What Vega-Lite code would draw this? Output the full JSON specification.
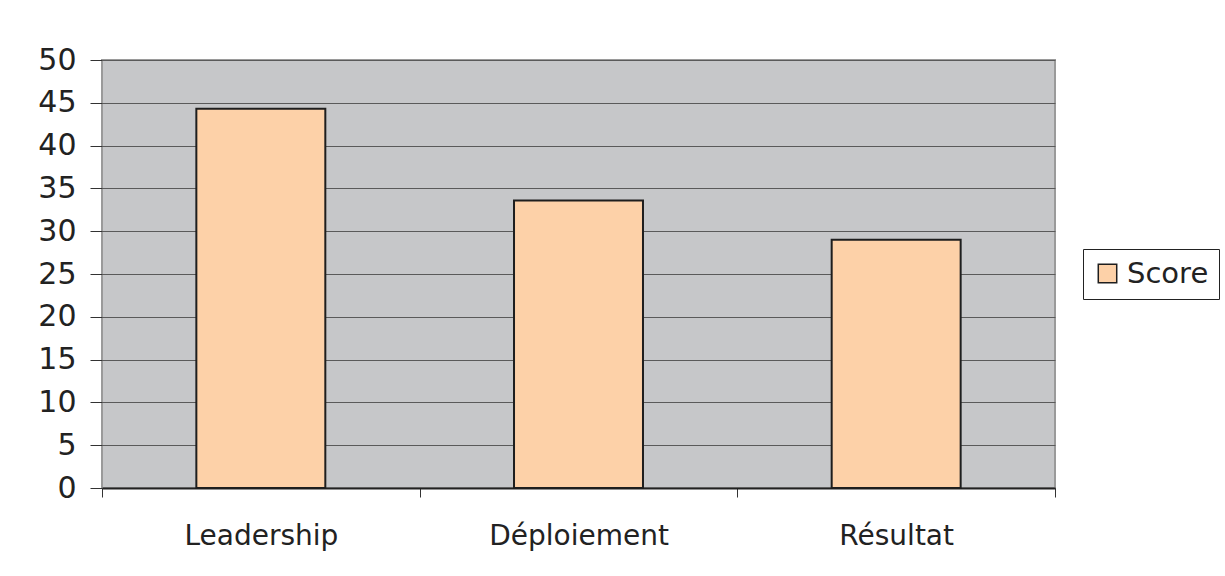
{
  "$schema": "https://vega.github.io/schema/vega-lite/v6.json",
  "width": 953,
  "height": 428,
  "autosize": {"type": "none"},
  "padding": {"left": 102, "top": 60, "right": 170, "bottom": 88},
  "background": "white",
  "data": {
    "values": [
      {"critere": "Leadership", "score": 44.3, "serie": "Score"},
      {"critere": "Déploiement", "score": 33.6, "serie": "Score"},
      {"critere": "Résultat", "score": 29.0, "serie": "Score"}
    ]
  },
  "mark": {"type": "bar", "width": {"band": 0.406}, "stroke": "#1e1e1e", "strokeWidth": 2},
  "encoding": {
    "x": {
      "field": "critere",
      "type": "nominal",
      "sort": null,
      "scale": {"paddingInner": 0, "paddingOuter": 0},
      "axis": {
        "title": null,
        "labelAngle": 0,
        "labelFont": "DejaVu Sans",
        "labelFontSize": 28,
        "labelColor": "#222222",
        "labelPadding": 25,
        "tickBand": "extent",
        "tickSize": 9,
        "tickColor": "#333333",
        "tickWidth": 1,
        "domainColor": "#222222",
        "domainWidth": 2,
        "grid": false
      }
    },
    "y": {
      "field": "score",
      "type": "quantitative",
      "scale": {"domain": [0, 50], "nice": false},
      "axis": {
        "title": null,
        "values": [0, 5, 10, 15, 20, 25, 30, 35, 40, 45, 50],
        "labelFont": "DejaVu Sans",
        "labelFontSize": 30,
        "labelColor": "#222222",
        "labelPadding": 14,
        "tickSize": 12,
        "tickColor": "#333333",
        "tickWidth": 1,
        "domain": false,
        "grid": true,
        "gridColor": "#5a5a5a",
        "gridWidth": 1
      }
    },
    "color": {
      "field": "serie",
      "type": "nominal",
      "scale": {"range": ["#FDD1A8"]},
      "legend": {
        "title": null,
        "orient": "none",
        "legendX": 981,
        "legendY": 189,
        "padding": 10,
        "strokeColor": "#222222",
        "fillColor": "white",
        "symbolType": "square",
        "symbolSize": 340,
        "symbolStrokeColor": "#1e1e1e",
        "symbolStrokeWidth": 1.5,
        "symbolOpacity": 1,
        "labelFont": "DejaVu Sans",
        "labelFontSize": 29,
        "labelColor": "#222222",
        "labelOffset": 5
      }
    }
  },
  "config": {
    "view": {"fill": "#C6C7C9", "stroke": "#9A9A9A", "strokeWidth": 2}
  }
}
